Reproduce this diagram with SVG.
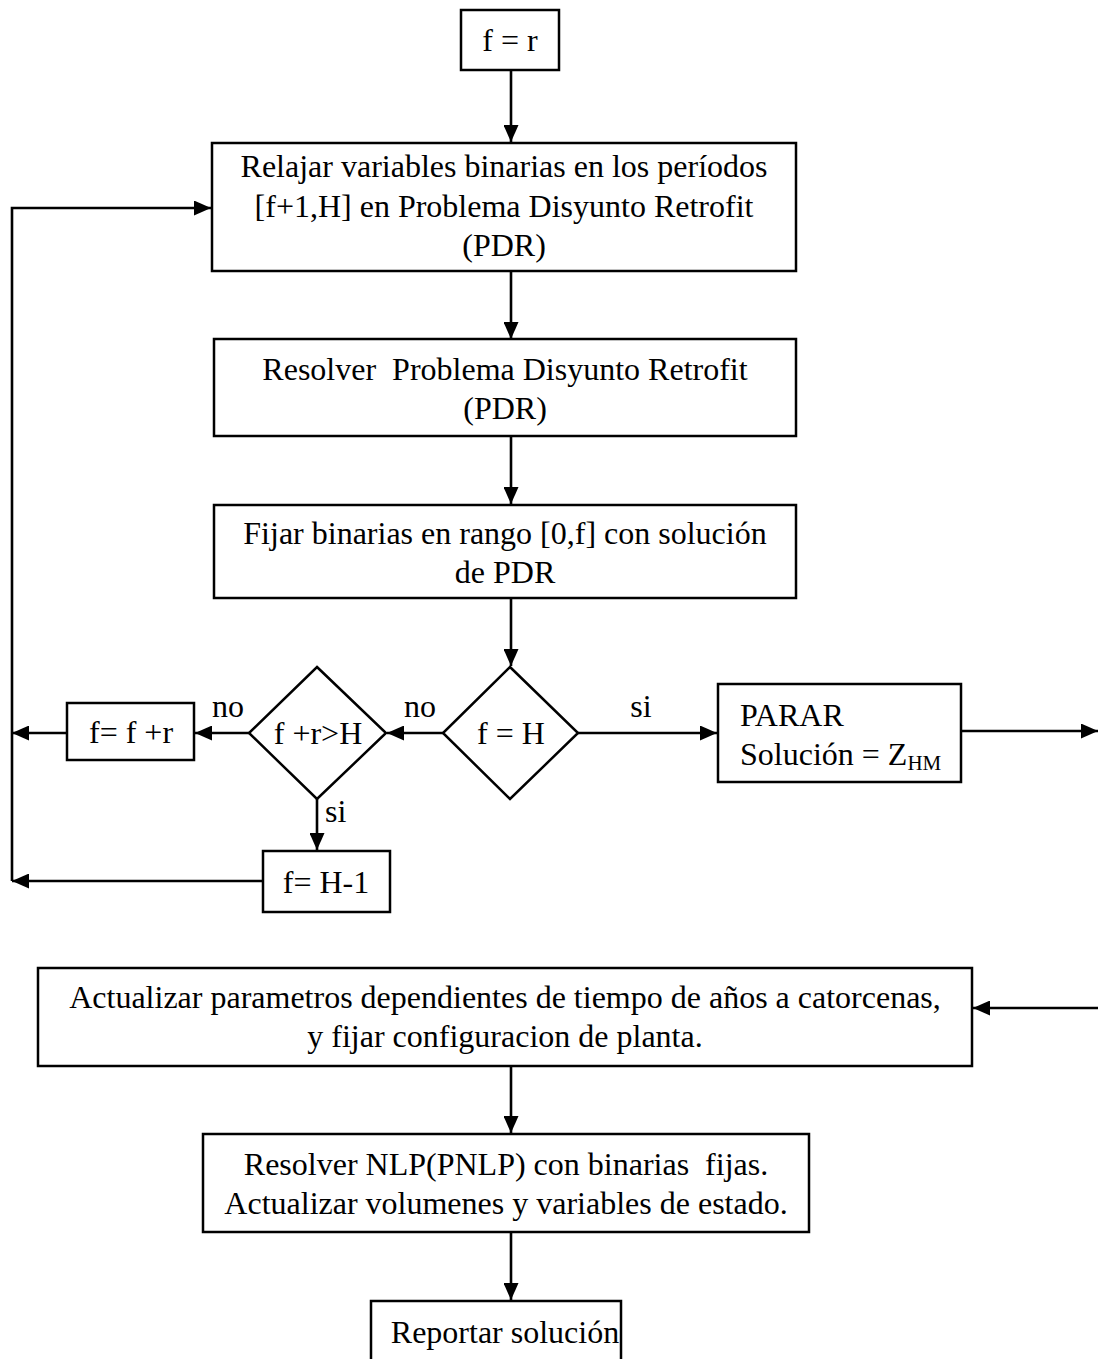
<svg xmlns="http://www.w3.org/2000/svg" width="1098" height="1359" viewBox="0 0 1098 1359">
  <style>
    .box { fill: #ffffff; stroke: #000000; stroke-width: 2.5; }
    .lbl { font-family: "Liberation Serif", "Times New Roman", serif; font-size: 32px; fill: #000000; }
    .mid { text-anchor: middle; }
    .edge { fill: none; stroke: #000000; stroke-width: 2.6; }
    .arr { marker-end: url(#head); }
  </style>
  <defs>
    <marker id="head" viewBox="0 0 17 15" refX="17" refY="7.5" markerWidth="17" markerHeight="15" markerUnits="userSpaceOnUse" orient="auto">
      <path d="M0,0 L17,7.5 L0,15 z" fill="#000000"/>
    </marker>
  </defs>
  <rect width="1098" height="1359" fill="#ffffff"/>

  <g id="connectors">
    <line class="edge arr" x1="511" y1="70" x2="511" y2="142"/>
    <line class="edge arr" x1="511" y1="271" x2="511" y2="339"/>
    <line class="edge arr" x1="511" y1="436" x2="511" y2="504"/>
    <line class="edge arr" x1="511" y1="598" x2="511" y2="666"/>
    <line class="edge arr" x1="578" y1="733" x2="717" y2="733"/>
    <line class="edge arr" x1="961" y1="731" x2="1098" y2="731"/>
    <line class="edge arr" x1="443" y1="733" x2="387" y2="733"/>
    <line class="edge arr" x1="249" y1="733" x2="195" y2="733"/>
    <line class="edge arr" x1="67" y1="733" x2="12" y2="733"/>
    <line class="edge arr" x1="317" y1="799" x2="317" y2="850"/>
    <line class="edge arr" x1="263" y1="881" x2="12" y2="881"/>
    <polyline class="edge arr" points="12,881 12,208 211,208"/>
    <line class="edge arr" x1="1098" y1="1008" x2="973" y2="1008"/>
    <line class="edge arr" x1="511" y1="1066" x2="511" y2="1133"/>
    <line class="edge arr" x1="511" y1="1232" x2="511" y2="1300"/>
    <text class="lbl" x="641" y="717" text-anchor="middle">si</text>
    <text class="lbl" x="420" y="717" text-anchor="middle">no</text>
    <text class="lbl" x="228" y="717" text-anchor="middle">no</text>
    <text class="lbl" x="325" y="822">si</text>
  </g>

  <g id="start">
    <rect class="box" x="461" y="10" width="98" height="60"/>
    <text class="lbl mid" x="510" y="51">f = r</text>
  </g>

  <g id="relajar">
    <rect class="box" x="212" y="143" width="584" height="128"/>
    <text class="lbl mid" x="504" y="177">Relajar variables binarias en los períodos</text>
    <text class="lbl mid" x="504" y="217">[f+1,H] en Problema Disyunto Retrofit</text>
    <text class="lbl mid" x="504" y="256">(PDR)</text>
  </g>

  <g id="resolver-pdr">
    <rect class="box" x="214" y="339" width="582" height="97"/>
    <text class="lbl mid" x="505" y="380" xml:space="preserve">Resolver  Problema Disyunto Retrofit</text>
    <text class="lbl mid" x="505" y="419">(PDR)</text>
  </g>

  <g id="fijar">
    <rect class="box" x="214" y="505" width="582" height="93"/>
    <text class="lbl mid" x="505" y="544">Fijar binarias en rango [0,f] con solución</text>
    <text class="lbl mid" x="505" y="583">de PDR</text>
  </g>

  <g id="test-fH">
    <polygon class="box" points="510,667 578,733 510,799 443,733"/>
    <text class="lbl mid" x="511" y="744">f = H</text>
  </g>

  <g id="parar">
    <rect class="box" x="718" y="684" width="243" height="98"/>
    <text class="lbl" x="740" y="726">PARAR</text>
    <text class="lbl" x="740" y="765">Solución = Z<tspan font-size="21px" dy="5">HM</tspan></text>
  </g>

  <g id="test-frH">
    <polygon class="box" points="317,667 386,733 317,799 249,733"/>
    <text class="lbl mid" x="318" y="744">f +r&gt;H</text>
  </g>

  <g id="inc-f">
    <rect class="box" x="67" y="703" width="127" height="57"/>
    <text class="lbl mid" x="131" y="743">f= f +r</text>
  </g>

  <g id="set-f">
    <rect class="box" x="263" y="851" width="127" height="61"/>
    <text class="lbl mid" x="326" y="893">f= H-1</text>
  </g>

  <g id="actualizar">
    <rect class="box" x="38" y="968" width="934" height="98"/>
    <text class="lbl mid" x="505" y="1008">Actualizar parametros dependientes de tiempo de años a catorcenas,</text>
    <text class="lbl mid" x="505" y="1047">y fijar configuracion de planta.</text>
  </g>

  <g id="resolver-nlp">
    <rect class="box" x="203" y="1134" width="606" height="98"/>
    <text class="lbl mid" x="506" y="1175" xml:space="preserve">Resolver NLP(PNLP) con binarias  fijas.</text>
    <text class="lbl mid" x="506" y="1214">Actualizar volumenes y variables de estado.</text>
  </g>

  <g id="reportar">
    <rect class="box" x="371" y="1301" width="250" height="70"/>
    <text class="lbl mid" x="505" y="1343">Reportar solución</text>
  </g>
</svg>
